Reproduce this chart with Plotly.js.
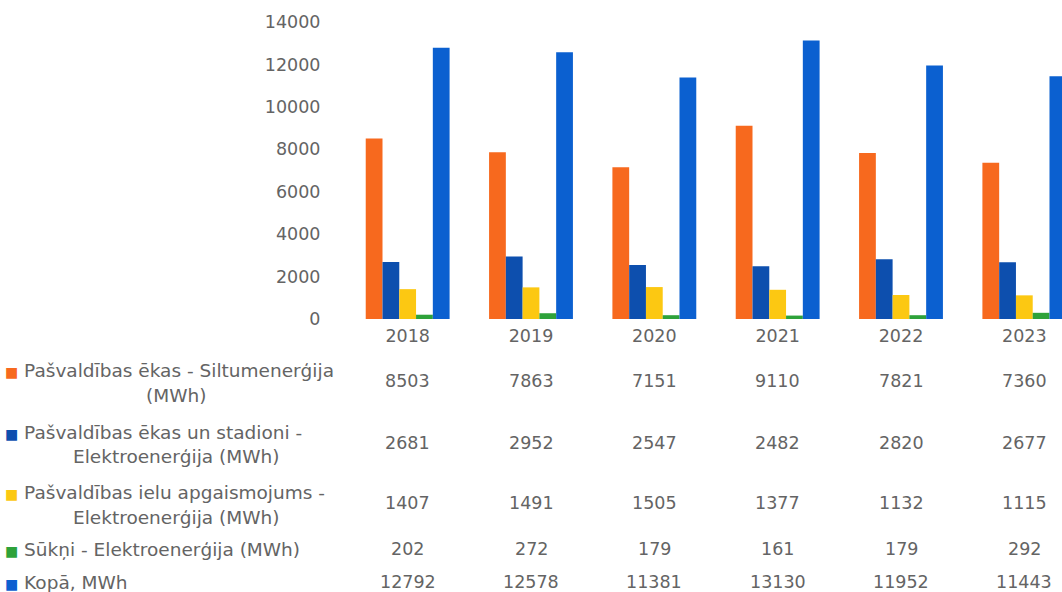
<!DOCTYPE html>
<html>
<head>
<meta charset="utf-8">
<script src="https://cdn.plot.ly/plotly-3.0.1.min.js"></script>
<style>
html,body{margin:0;padding:0;overflow:hidden;background:#fff;}
#chart{width:1086px;height:592px;}
</style>
</head>
<body>
<div id="chart"></div>
<script>
const years = ['2018','2019','2020','2021','2022','2023'];
const seriesLine1 = [
  'Pašvaldības ēkas - Siltumenerģija',
  'Pašvaldības ēkas un stadioni -',
  'Pašvaldības ielu apgaismojums -',
  'Sūkņi - Elektroenerģija (MWh)',
  'Kopā, MWh'
];
const seriesLine2 = ['(MWh)', 'Elektroenerģija (MWh)', 'Elektroenerģija (MWh)', '', ''];
const heatBuildings = [8503, 7863, 7151, 9110, 7821, 7360];
const elecBuildings = [2681, 2952, 2547, 2482, 2820, 2677];
const streetLight = [1407, 1491, 1505, 1377, 1132, 1115];
const pumps = [202, 272, 179, 161, 179, 292];
const total = [12792, 12578, 11381, 13130, 11952, 11443];
const yTicks = [0, 2000, 4000, 6000, 8000, 10000, 12000, 14000];

const seriesValues = [heatBuildings, elecBuildings, streetLight, pumps, total];
const colors = ['#f7691e', '#0d4fae', '#fcc812', '#2ea23a', '#0b60d0'];

const W = 1086, H = 592, ML = 346, MR = 0, MT = 22, MB = 273;
const PW = W - ML - MR, PH = H - MT - MB;
const py = px => (H - MB - px) / PH;
const pxX = px => (px - ML) / PW;

const traces = seriesValues.map((vals, i) => ({
  type: 'bar',
  x: years,
  y: vals,
  name: seriesLine1[i] + ' ' + seriesLine2[i],
  marker: {color: colors[i]},
  hoverinfo: 'x+y'
}));

const textColor = '#646464';
const font = {family: 'DejaVu Sans, sans-serif', size: 17.5, color: textColor};
const labelFont = {family: 'DejaVu Sans, sans-serif', size: 18.5, color: textColor};
const valueY = [381, 443, 503, 549, 582];
const line1Y = [370, 432, 492, 549, 582];
const line2Y = [395, 456, 517];
const annotations = [];
seriesValues.forEach((vals, i) => {
  annotations.push({
    xref: 'paper', yref: 'paper',
    x: pxX(3), y: py(line1Y[i]),
    xanchor: 'left', yanchor: 'middle',
    text: '<span style="color:' + colors[i] + ';font-size:14px">■</span> ' + seriesLine1[i],
    showarrow: false, align: 'left',
    font: labelFont
  });
  if (seriesLine2[i]) {
    annotations.push({
      xref: 'paper', yref: 'paper',
      x: pxX(176), y: py(line2Y[i]),
      xanchor: 'center', yanchor: 'middle',
      text: seriesLine2[i],
      showarrow: false, align: 'center',
      font: labelFont
    });
  }
  vals.forEach((v, j) => {
    annotations.push({
      xref: 'x', yref: 'paper',
      x: j, y: py(valueY[i]),
      xanchor: 'center', yanchor: 'middle',
      text: String(v),
      showarrow: false,
      font: font
    });
  });
});

const layout = {
  width: W, height: H,
  margin: {l: ML, r: MR, t: MT, b: MB, pad: 0},
  paper_bgcolor: '#ffffff',
  plot_bgcolor: '#ffffff',
  showlegend: false,
  barmode: 'group',
  bargap: 0.32,
  bargroupgap: 0,
  font: font,
  xaxis: {
    type: 'category',
    categoryarray: years,
    range: [-0.5, 5.5],
    autorange: false,
    showgrid: false, zeroline: false, showline: false,
    ticks: 'outside', ticklen: 1, tickcolor: 'rgba(0,0,0,0)',
    tickfont: font
  },
  yaxis: {
    range: [0, 14000],
    autorange: false,
    tickvals: yTicks,
    ticktext: yTicks.map(String),
    showgrid: false, zeroline: false, showline: false,
    ticks: 'outside', ticklen: 21, tickcolor: 'rgba(0,0,0,0)',
    tickfont: font
  },
  annotations: annotations
};

Plotly.newPlot('chart', traces, layout, {displayModeBar: false, staticPlot: true});
</script>
</body>
</html>
